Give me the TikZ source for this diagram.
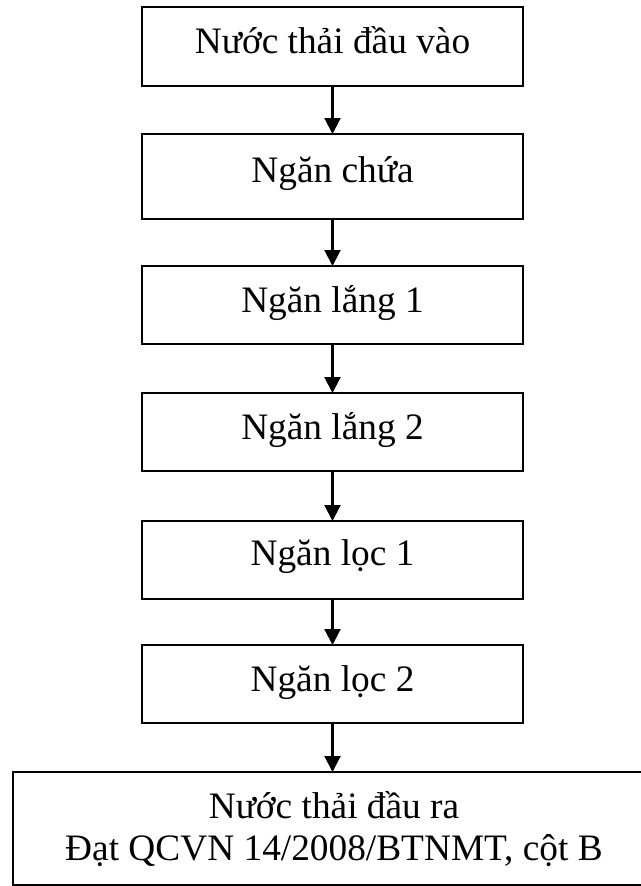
\documentclass[tikz,border=0pt]{standalone}
\usepackage{fontspec}
\setmainfont{Liberation Serif}
\usetikzlibrary{arrows.meta}
\tikzset{
  flowbox/.style={draw=black, line width=1.4pt, inner sep=0pt, outer sep=0pt, minimum width=285.75pt, minimum height=58.5pt},
  lbl/.style={inner sep=0pt, anchor=base, font=\fontsize{28}{31.7}\selectfont},
  arr/.style={line width=1.6pt, -{Triangle[length=12pt,width=12pt]}}
}
\begin{document}
\begin{tikzpicture}[x=0.75pt,y=-0.75pt]
\useasboundingbox (0,0) rectangle (641,886);
\clip (0,0) rectangle (641,886);
\node[flowbox, minimum height=59.25pt] (b1) at (332.5,46.5) {};
\node[flowbox, minimum height=63.75pt] (b2) at (332.5,176.5) {};
\node[flowbox] (b3) at (332.5,305) {};
\node[flowbox] (b4) at (332.5,432) {};
\node[flowbox] (b5) at (332.5,560) {};
\node[flowbox] (b6) at (332.5,684) {};
\node[flowbox, minimum width=481.5pt, minimum height=84.75pt] (b7) at (334,828.5) {};
\node[lbl] (t1) at (332.5,53) {Nước thải đầu vào};
\node[lbl] (t2) at (332.5,182) {Ngăn chứa};
\node[lbl] (t3) at (332.5,312) {Ngăn lắng 1};
\node[lbl] (t4) at (332.5,439) {Ngăn lắng 2};
\node[lbl] (t5) at (332.5,565) {Ngăn lọc 1};
\node[lbl] (t6) at (332.5,691) {Ngăn lọc 2};
\node[lbl] (t7a) at (334,818) {Nước thải đầu ra};
\node[lbl] (t7b) at (334,860) {Đạt QCVN 14/2008/BTNMT, cột B};
\draw[arr] (b1.south) -- (b2.north);
\draw[arr] (b2.south) -- (b3.north);
\draw[arr] (b3.south) -- (b4.north);
\draw[arr] (b4.south) -- (b5.north);
\draw[arr] (b5.south) -- (b6.north);
\draw[arr] (b6.south) -- (b6.south |- b7.north);
\end{tikzpicture}
\end{document}
